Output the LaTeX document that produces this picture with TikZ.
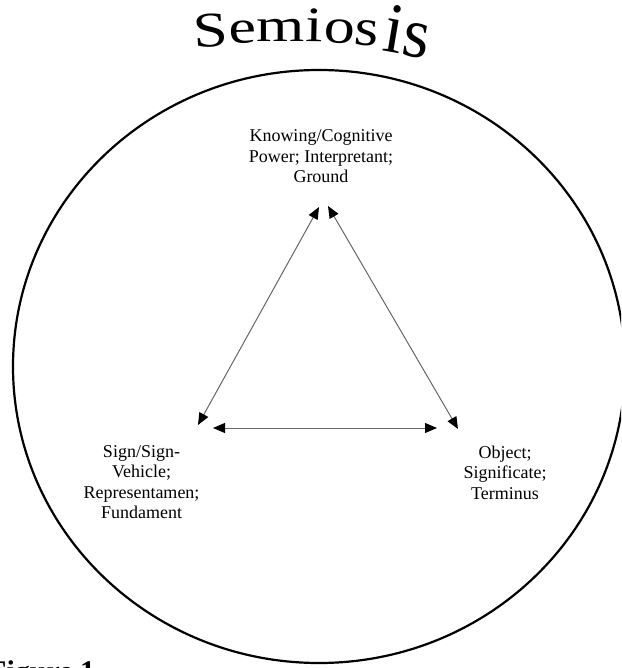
\documentclass[tikz,border=0pt]{standalone}
\usepackage{fontspec}
\setmainfont{Liberation Serif}
\usetikzlibrary{arrows.meta}
\begin{document}
\begin{tikzpicture}[x=1pt,y=-1pt,
  lbl/.style={align=center,inner sep=0pt,anchor=north,font=\fontsize{18}{20.5}\selectfont},
  conn/.style={draw=black!60,line width=1pt,
    {Triangle[length=12pt,width=10pt,black]}-{Triangle[length=12pt,width=10pt,black]}},
  ttl/.style={inner sep=0pt,anchor=base,font=\fontsize{62}{62}\selectfont}]
\useasboundingbox (0,0) rectangle (621,668);
\clip (0,0) rectangle (621,668);
% outer circle
\draw[line width=2.2pt] (319,366.5) ellipse [x radius=306, y radius=296.5];
% title letters
\node[ttl,yscale=0.8,rotate=3] (t1) at (212,47) {S};
\node[ttl,yscale=0.76,rotate=2] (t2) at (243,43) {e};
\node[ttl,yscale=0.76] (t3) at (281,42) {m};
\node[ttl,yscale=0.8,rotate=-1] (t4) at (314,42) {i};
\node[ttl,yscale=0.8,rotate=-3] (t5) at (339,43) {o};
\node[ttl,yscale=0.85,rotate=-5] (t6) at (366,45) {s};
\node[ttl,xscale=1.1,yscale=1.15,rotate=-10] (t7) at (404,55) {is};
% labels
\node[lbl] (know) at (321,129.5) {Knowing/Cognitive\\Power; Interpretant;\\Ground};
\node[lbl] (sign) at (141.5,445) {Sign/Sign-\\Vehicle;\\Representamen;\\Fundament};
\node[lbl] (obj) at (505,445.5) {Object;\\Significate;\\Terminus};
% arrow end points
\coordinate (kL) at (319,207);
\coordinate (kR) at (328,206);
\coordinate (sU) at (198,425);
\coordinate (sR) at (213,428);
\coordinate (oL) at (437,428);
\coordinate (oU) at (458,429);
\draw[conn] (sU) -- (kL);
\draw[conn] (kR) -- (oU);
\draw[conn] (sR) -- (oL);
% caption (cut off at the bottom edge)
\node[inner sep=0pt,anchor=base west,font=\bfseries\fontsize{30}{30}\selectfont] (fig) at (-12,681) {Figure 1};
\end{tikzpicture}
\end{document}
